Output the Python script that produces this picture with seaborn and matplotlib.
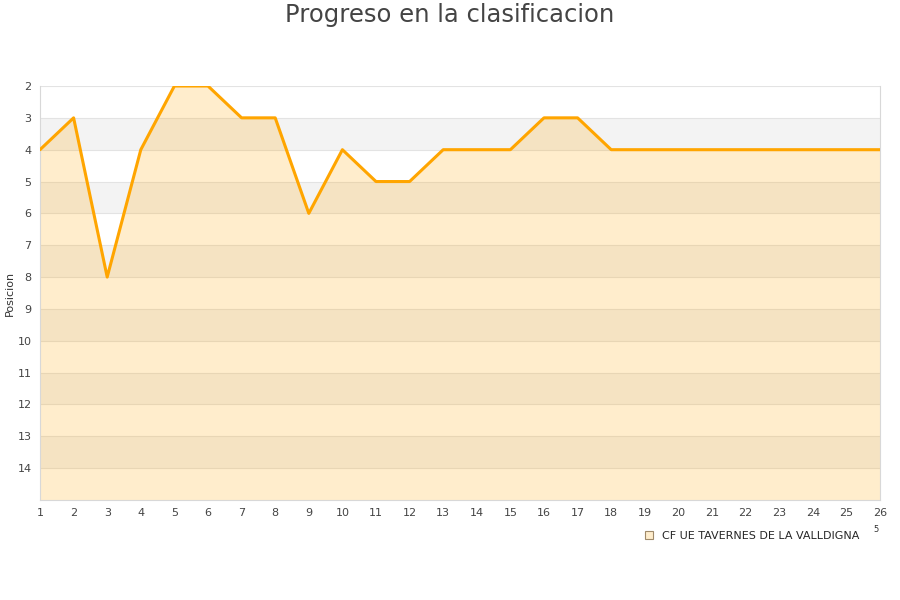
import matplotlib
matplotlib.use('Agg')
import matplotlib.pyplot as plt
import seaborn as sns
import pandas as pd
from matplotlib.patches import Patch

jornadas = list(range(1, 27))
posiciones = [4, 3, 8, 4, 2, 2, 3, 3, 6, 4, 5, 5, 4, 4, 4, 3, 3, 4, 4, 4, 4, 4, 4, 4, 4, 4]
equipo = 'CF UE TAVERNES DE LA VALLDIGNA'
y_ticks = list(range(2, 15))

df = pd.DataFrame({'jornada': jornadas, 'posicion': posiciones})

sns.set_style('white')
plt.rcParams['font.family'] = ['DejaVu Sans']

fig = plt.figure(figsize=(9, 6), dpi=100)
ax = fig.add_axes([40 / 900, 100 / 600, 840 / 900, 414 / 600])

# bandas alternas
for k in range(3, 15, 2):
    ax.axhspan(k, k + 1, color='#f3f3f3', zorder=0, lw=0)
for k in y_ticks:
    ax.axhline(k, color='#e3e3e3', lw=0.8, zorder=1)

ax.fill_between(df['jornada'], df['posicion'], 15, color='#FFA500', alpha=0.2, lw=0, zorder=2)
sns.lineplot(data=df, x='jornada', y='posicion', color='#FFA500', lw=2.2, ax=ax, zorder=3)

ax.set_xlim(1, 26)
ax.set_ylim(15, 2)
ax.set_xticks(jornadas)
ax.set_yticks(y_ticks)
ax.tick_params(labelsize=8, colors='#444444', length=0, pad=6)
ax.set_xlabel('')
ax.set_ylabel('Posicion', fontsize=8, color='#333333', labelpad=4)
ax.yaxis.set_label_coords(-0.03, 0.5)

for side in ['left', 'bottom', 'right', 'top']:
    ax.spines[side].set_color('#d8d8d8')
    ax.spines[side].set_linewidth(0.8)
ax.spines['top'].set_visible(False)

fig.suptitle('Progreso en la clasificacion', fontsize=17.5, color='#444444', y=0.995)

handle = Patch(facecolor='#ffedcc', edgecolor='#a08a6a', lw=0.8)
fig.legend([handle], [equipo], loc='center left', bbox_to_anchor=(0.705, 0.107),
           frameon=False, fontsize=8, handlelength=0.8, handleheight=0.8, handletextpad=0.8)
fig.text(0.97, 0.113, '5', fontsize=6, color='#333333')

fig.savefig('out.png', dpi=100)
